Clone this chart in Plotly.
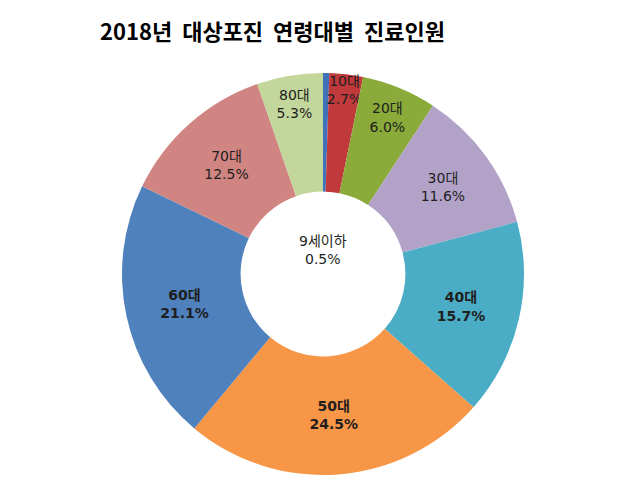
import plotly.graph_objects as go

labels = ["9세이하", "10대", "20대", "30대", "40대", "50대", "60대", "70대", "80대"]
values = [0.5, 2.7, 6.0, 11.6, 15.7, 24.5, 21.1, 12.5, 5.3]
colors = ["#3f72b8", "#c0393b", "#8aaa3a", "#b3a2c7", "#4bacc6",
          "#f79646", "#4f81bd", "#d08583", "#c3d69b"]
bold = [False, False, False, False, True, True, True, False, False]
title = "2018년  대상포진  연령대별  진료인원"

texts = []
for lab, v, b in zip(labels, values, bold):
    if lab == "9세이하":
        texts.append("")
        continue
    t = f"{lab}<br>{v:.1f}%"
    texts.append(f"<b>{t}</b>" if b else t)

W, H = 621, 478
cx, cy, r = 323, 274, 201
lab_font = "DejaVu Sans, Noto Sans CJK KR"

fig = go.Figure(go.Pie(
    labels=labels, values=values, text=texts,
    textinfo="text", textposition="inside",
    insidetextorientation="horizontal",
    sort=False, direction="clockwise", rotation=0,
    hole=0.41,
    marker=dict(colors=colors, line=dict(color="rgba(255,255,255,0)", width=0)),
    textfont=dict(family=lab_font, size=14, color="#1e1e1e"),
    domain=dict(x=[(cx - r) / W, (cx + r) / W], y=[(H - cy - r) / H, (H - cy + r) / H]),
    showlegend=False, hoverinfo="label+percent",
))

fig.add_annotation(
    text=f"{labels[0]}<br>{values[0]:.1f}%", x=cx / W, y=(H - 250) / H,
    xref="paper", yref="paper", showarrow=False, yanchor="middle",
    font=dict(family=lab_font, size=14, color="#1e1e1e"),
)
fig.add_annotation(
    text=f"<b>{title.replace('  ', '&nbsp;&nbsp;')}</b>", x=272 / W, y=(H - 30) / H,
    xref="paper", yref="paper", showarrow=False, yanchor="middle",
    font=dict(family="Noto Sans CJK KR", size=22, color="#000000"),
)

fig.update_layout(
    width=W, height=H, margin=dict(l=0, r=0, t=0, b=0),
    paper_bgcolor="white", plot_bgcolor="white",
    uniformtext=dict(minsize=14, mode="show"),
)
fig.write_html("out.html")
